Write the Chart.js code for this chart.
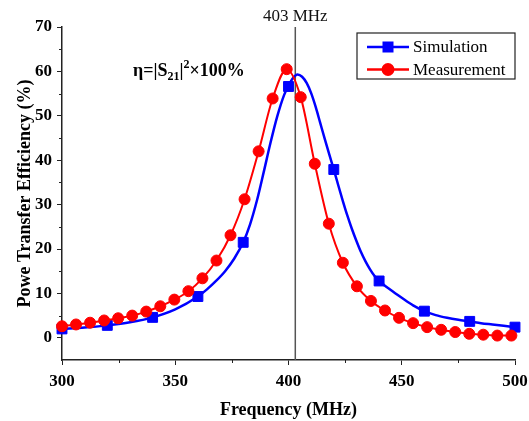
<!DOCTYPE html>
<html lang="en">
<head>
<meta charset="UTF-8">
<title>Power Transfer Efficiency</title>
<script src="https://cdn.jsdelivr.net/npm/chart.js@4.4.0/dist/chart.umd.min.js"></script>
<style>
  body { margin: 0; background: #fff; }
  #wrap { width: 529px; height: 421px; }
</style>
</head>
<body>
<div id="wrap"><canvas id="chart" width="529" height="421"></canvas></div>
<script>
// measured points (red circles)
const measFreq = [300, 306.2, 312.4, 318.6, 324.8, 331, 337.2, 343.4, 349.6, 355.8, 362, 368.2, 374.4, 380.6,
  386.8, 393, 399.2, 405.4, 411.6, 417.8, 424, 430.2, 436.4, 442.6, 448.8, 455, 461.2, 467.4, 473.6, 479.8,
  486, 492.2, 498.4];
const measEff = [2.6, 3.0, 3.4, 3.9, 4.4, 5.0, 5.9, 7.1, 8.6, 10.5, 13.4, 17.4, 23.1, 31.2,
  42.0, 53.9, 60.5, 54.2, 39.2, 25.7, 16.9, 11.6, 8.3, 6.15, 4.5, 3.3, 2.4, 1.8, 1.3, 0.9,
  0.7, 0.5, 0.5];

// simulation markers (blue squares)
const simFreq = [300, 320, 340, 360, 380, 400, 420, 440, 460, 480, 500];
const simEff = [2.0, 2.8, 4.6, 9.3, 21.5, 56.6, 37.9, 12.8, 6.0, 3.7, 2.4];

// simulation curve
const curveFreq = [300, 310, 320, 330, 340, 350, 360, 364, 368, 372, 376, 380, 383, 386, 389, 392, 395, 398,
  400, 402, 404, 406, 408, 410, 412, 414, 416, 418, 420, 422, 424, 426, 428, 430, 432, 434, 436, 438, 440,
  445, 450, 455, 460, 465, 470, 475, 480, 485, 490, 495, 500];
const curveEff = [2.0, 2.3, 2.8, 3.5, 4.6, 6.4, 9.3, 10.9, 12.8, 15.0, 17.8, 21.5, 25.5, 30.8, 37.2, 43.8, 49.8, 54.6,
  56.8, 58.5, 59.3, 58.8, 57.4, 55.1, 52.0, 48.4, 44.8, 41.3, 37.9, 34.3, 30.8, 27.5, 24.5, 21.8, 19.3, 17.2, 15.4, 13.9, 12.8,
  10.8, 9.0, 7.3, 6.0, 5.1, 4.5, 4.05, 3.7, 3.3, 3.0, 2.7, 2.4];

const xTicks = [300, 350, 400, 450, 500];
const yTicks = [0, 10, 20, 30, 40, 50, 60, 70];
const markerFreq = 403;

const serif = "'Liberation Serif', 'Times New Roman', serif";

function pts(xs, ys) {
  return xs.map((v, i) => ({ x: v, y: ys[i] }));
}

const extras = {
  id: 'extras',
  beforeDatasetsDraw(chart) {
    const { ctx, scales: { x }, chartArea } = chart;
    const px = x.getPixelForValue(markerFreq);
    ctx.save();
    ctx.strokeStyle = '#555';
    ctx.lineWidth = 1.5;
    ctx.beginPath();
    ctx.moveTo(px, chartArea.top);
    ctx.lineTo(px, chartArea.bottom);
    ctx.stroke();
    ctx.fillStyle = '#111';
    ctx.font = '17px ' + serif;
    ctx.textAlign = 'center';
    ctx.textBaseline = 'middle';
    ctx.fillText(markerFreq + ' MHz', px, 17);
    ctx.restore();
  },
  afterDraw(chart) {
    const { ctx, scales: { x, y }, chartArea } = chart;
    ctx.save();
    // minor ticks
    ctx.strokeStyle = '#222';
    ctx.lineWidth = 1;
    for (let v = 325; v < 500; v += 50) {
      const px = Math.round(x.getPixelForValue(v)) + 0.5;
      ctx.beginPath();
      ctx.moveTo(px, chartArea.bottom);
      ctx.lineTo(px, chartArea.bottom + 3);
      ctx.stroke();
    }
    for (let v = 5; v < 70; v += 10) {
      const py = Math.round(y.getPixelForValue(v)) + 0.5;
      ctx.beginPath();
      ctx.moveTo(chartArea.left, py);
      ctx.lineTo(chartArea.left - 3, py);
      ctx.stroke();
    }

    // formula
    let cx = 133;
    const base = 76;
    ctx.fillStyle = '#000';
    ctx.textAlign = 'left';
    ctx.textBaseline = 'alphabetic';
    const big = 'bold 18px ' + serif;
    const small = 'bold 12px ' + serif;
    const parts = [
      ['\u03b7=|S', big, 0], ['21', small, 4], ['|', big, 0], ['2', small, -8], ['\u00d7100%', big, 0]
    ];
    parts.forEach(p => {
      ctx.font = p[1];
      ctx.fillText(p[0], cx, base + p[2]);
      cx += ctx.measureText(p[0]).width;
    });

    // legend box
    const bx = 357, by = 33, bw = chartArea.right - 357, bh = 46;
    ctx.strokeStyle = '#222';
    ctx.lineWidth = 1.2;
    ctx.strokeRect(bx, by, bw, bh);
    const rows = [
      { label: 'Simulation', color: '#0000ff', shape: 'rect', ly: 47 },
      { label: 'Measurement', color: '#ff0000', shape: 'circle', ly: 69.5 }
    ];
    rows.forEach(r => {
      ctx.strokeStyle = r.color;
      ctx.fillStyle = r.color;
      ctx.lineWidth = 2.5;
      ctx.beginPath();
      ctx.moveTo(367, r.ly);
      ctx.lineTo(409, r.ly);
      ctx.stroke();
      if (r.shape === 'rect') {
        ctx.fillRect(388 - 5.5, r.ly - 5.5, 11, 11);
      } else {
        ctx.beginPath();
        ctx.arc(388, r.ly, 6.5, 0, Math.PI * 2);
        ctx.fill();
      }
      ctx.fillStyle = '#000';
      ctx.font = '17px ' + serif;
      ctx.textBaseline = 'middle';
      ctx.fillText(r.label, 413, r.ly + 1);
    });
    ctx.restore();
  }
};

new Chart(document.getElementById('chart'), {
  type: 'scatter',
  data: {
    datasets: [
      {
        label: 'Measurement',
        data: pts(measFreq, measEff),
        showLine: true,
        clip: false,
        borderColor: '#ff0000',
        backgroundColor: '#ff0000',
        borderWidth: 2,
        pointRadius: 5.5,
        pointBorderWidth: 1,
        pointStyle: 'circle',
        cubicInterpolationMode: 'monotone'
      },
      {
        label: 'Simulation',
        data: pts(simFreq, simEff),
        showLine: false,
        clip: false,
        borderColor: '#0000ff',
        backgroundColor: '#0000ff',
        pointStyle: 'rect',
        pointRadius: 7,
        pointBorderWidth: 1
      },
      {
        label: 'Simulation curve',
        data: pts(curveFreq, curveEff),
        showLine: true,
        clip: false,
        borderColor: '#0000ff',
        backgroundColor: '#0000ff',
        borderWidth: 2.5,
        pointRadius: 0,
        cubicInterpolationMode: 'monotone'
      }
    ]
  },
  options: {
    responsive: false,
    animation: false,
    events: [],
    layout: { padding: { top: 27, right: 0, bottom: 0, left: 0 } },
    plugins: { legend: { display: false }, tooltip: { enabled: false } },
    scales: {
      x: {
        type: 'linear',
        min: 300,
        max: 500,
        afterBuildTicks: s => { s.ticks = xTicks.map(v => ({ value: v })); },
        afterFit: s => { s.height = 61; s.paddingRight = 14; },
        grid: { drawOnChartArea: false, drawTicks: true, tickLength: 5, tickColor: '#222', tickWidth: 1 },
        border: { display: true, color: '#222', width: 1.5 },
        ticks: { color: '#000', padding: 6, font: { family: serif, size: 17, weight: 'bold' } },
        title: {
          display: true, text: 'Frequency (MHz)', color: '#000',
          font: { family: serif, size: 18, weight: 'bold' }, padding: { top: 0, bottom: 0 }
        }
      },
      y: {
        min: -5,
        max: 70,
        afterBuildTicks: s => { s.ticks = yTicks.map(v => ({ value: v })); },
        afterFit: s => { s.width = 62; },
        grid: { drawOnChartArea: false, drawTicks: true, tickLength: 5, tickColor: '#222', tickWidth: 1 },
        border: { display: true, color: '#222', width: 1.5 },
        ticks: { color: '#000', padding: 5, font: { family: serif, size: 17, weight: 'bold' } },
        title: {
          display: true, text: 'Powe Transfer Efficiency (%)', color: '#000',
          font: { family: serif, size: 18, weight: 'bold' }, padding: { top: 15, bottom: 0 }
        }
      }
    }
  },
  plugins: [extras]
});
</script>
</body>
</html>
